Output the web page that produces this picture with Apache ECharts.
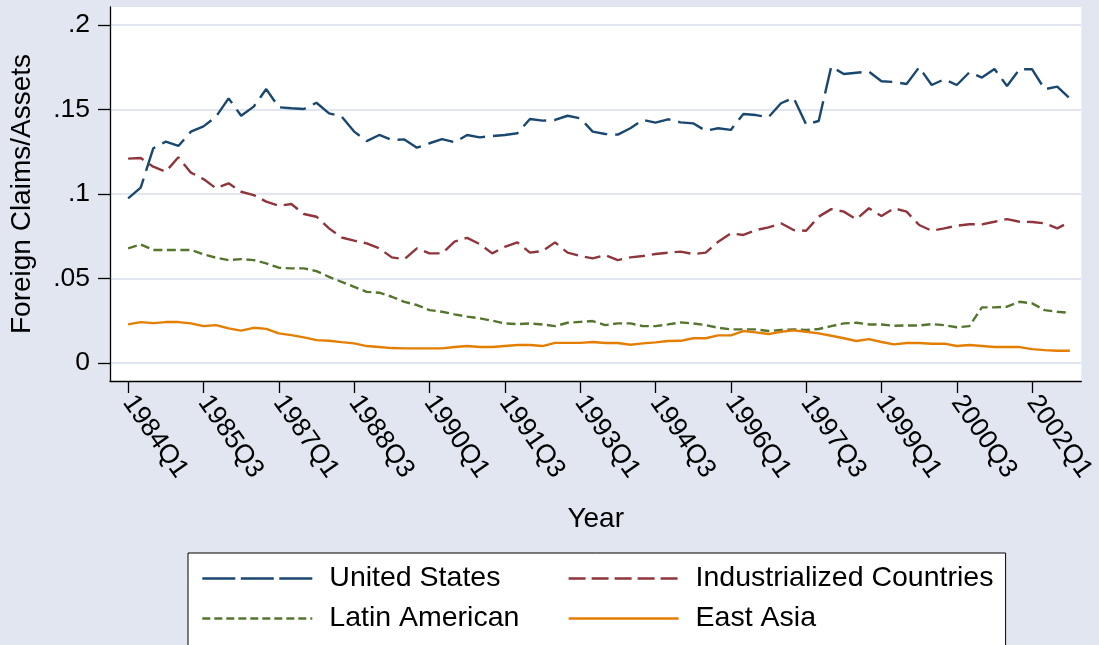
<!DOCTYPE html>
<html>
<head>
<meta charset="utf-8">
<script src="https://cdn.jsdelivr.net/npm/echarts@6/dist/echarts.min.js"></script>
<style>
html,body{margin:0;padding:0;background:#e1e6f0;}
#chart{width:1099px;height:645px;}
</style>
</head>
<body>
<div id="chart"></div>
<script>
const quarters = [
'1984Q1','1984Q2','1984Q3','1984Q4','1985Q1','1985Q2','1985Q3','1985Q4',
'1986Q1','1986Q2','1986Q3','1986Q4','1987Q1','1987Q2','1987Q3','1987Q4',
'1988Q1','1988Q2','1988Q3','1988Q4','1989Q1','1989Q2','1989Q3','1989Q4',
'1990Q1','1990Q2','1990Q3','1990Q4','1991Q1','1991Q2','1991Q3','1991Q4',
'1992Q1','1992Q2','1992Q3','1992Q4','1993Q1','1993Q2','1993Q3','1993Q4',
'1994Q1','1994Q2','1994Q3','1994Q4','1995Q1','1995Q2','1995Q3','1995Q4',
'1996Q1','1996Q2','1996Q3','1996Q4','1997Q1','1997Q2','1997Q3','1997Q4',
'1998Q1','1998Q2','1998Q3','1998Q4','1999Q1','1999Q2','1999Q3','1999Q4',
'2000Q1','2000Q2','2000Q3','2000Q4','2001Q1','2001Q2','2001Q3','2001Q4',
'2002Q1','2002Q2','2002Q3','2002Q4'];

const unitedStates = [
.0974,.1037,.1270,.1310,.1284,.1369,.1400,.1457,.1566,.1463,.1517,.1621,.1513,.1507,.1503,.1540,
.1477,.1459,.1369,.1313,.1349,.1319,.1323,.1274,.1300,.1325,.1306,.1349,.1335,.1343,.1349,.1359,
.1444,.1434,.1438,.1463,.1448,.1369,.1355,.1351,.1389,.1438,.1422,.1442,.1424,.1418,.1374,.1389,
.1379,.1473,.1467,.1454,.1537,.1570,.1412,.1432,.1754,.1710,.1718,.1724,.1667,.1663,.1651,.1750,
.1645,.1679,.1645,.1720,.1689,.1740,.1639,.1738,.1738,.1620,.1635,.1566];

const industrialized = [
.1209,.1213,.1161,.1132,.1217,.1126,.1088,.1033,.1063,.1013,.0993,.0954,.0930,.0940,.0881,.0865,
.0796,.0742,.0723,.0707,.0678,.0624,.0613,.0678,.0648,.0648,.0717,.0740,.0703,.0648,.0687,.0713,
.0652,.0662,.0713,.0652,.0633,.0618,.0638,.0608,.0624,.0632,.0644,.0652,.0658,.0644,.0652,.0717,
.0766,.0757,.0786,.0802,.0826,.0786,.0782,.0865,.0910,.0895,.0850,.0915,.0869,.0915,.0895,.0816,
.0782,.0796,.0812,.0820,.0820,.0835,.0851,.0835,.0834,.0826,.0796,.0835];

const latinAmerican = [
.0678,.0701,.0668,.0668,.0668,.0668,.0642,.0622,.0608,.0614,.0608,.0589,.0563,.0559,.0559,.0543,
.0509,.0479,.0450,.0420,.0415,.0391,.0361,.0342,.0312,.0302,.0287,.0273,.0263,.0249,.0233,.0229,
.0233,.0227,.0217,.0237,.0242,.0247,.0223,.0233,.0233,.0217,.0217,.0227,.0239,.0233,.0223,.0207,
.0198,.0198,.0198,.0188,.0194,.0198,.0194,.0200,.0217,.0233,.0237,.0227,.0227,.0219,.0221,.0221,
.0229,.0223,.0210,.0217,.0328,.0328,.0332,.0361,.0352,.0312,.0302,.0296];

const eastAsia = [
.0227,.0241,.0235,.0241,.0241,.0233,.0217,.0223,.0204,.0190,.0207,.0201,.0174,.0164,.0150,.0134,
.0130,.0122,.0115,.0099,.0093,.0087,.0085,.0085,.0085,.0085,.0093,.0099,.0093,.0093,.0099,.0105,
.0105,.0099,.0118,.0118,.0118,.0123,.0117,.0117,.0107,.0115,.0121,.0129,.0130,.0145,.0145,.0162,
.0162,.0188,.0180,.0170,.0184,.0192,.0184,.0174,.0160,.0145,.0129,.0140,.0123,.0109,.0117,.0117,
.0113,.0113,.0099,.0105,.0099,.0093,.0093,.0093,.0081,.0075,.0071,.0071];

const xTickValues = [0,6,12,18,24,30,36,42,48,54,60,66,72];
const yTickValues = [0,0.05,0.1,0.15,0.2];
const yTickLabels = ['0','.05','.1','.15','.2'];

const bg = '#e1e6f0';
const font = 'Liberation Sans, Arial, sans-serif';

function pairs(arr){ return arr.map((v,i)=>[i,v]); }
function yLabel(v){
  for (let k=0;k<yTickValues.length;k++){ if (Math.abs(yTickValues[k]-v)<1e-9) return yTickLabels[k]; }
  return '';
}

const chart = echarts.init(document.getElementById('chart'), null, {renderer:'canvas'});
chart.setOption({
  animation:false,
  backgroundColor:bg,
  textStyle:{fontFamily:font},
  grid:{left:110,right:9,top:7,bottom:264,show:true,backgroundColor:'#ffffff',borderWidth:0},
  xAxis:{
    type:'value', min:-1.445, max:75.92,
    axisLine:{show:true,onZero:false,lineStyle:{color:'#000',width:1.3}},
    axisTick:{show:true,customValues:xTickValues,length:12,lineStyle:{color:'#000',width:1.3}},
    axisLabel:{customValues:xTickValues,rotate:-55,margin:17,fontSize:26.5,color:'#000',fontFamily:font,
      formatter:function(v){return quarters[Math.round(v)];}},
    splitLine:{show:false},
    name:'Year', nameLocation:'middle', nameGap:124,
    nameTextStyle:{fontSize:28,color:'#000',fontFamily:font}
  },
  yAxis:{
    type:'value', min:-0.0108, max:0.2107,
    axisLine:{show:true,onZero:false,lineStyle:{color:'#000',width:1.3}},
    axisTick:{show:true,customValues:yTickValues,length:12,lineStyle:{color:'#000',width:1.3}},
    axisLabel:{customValues:yTickValues,margin:20,fontSize:26.5,color:'#000',fontFamily:font,formatter:yLabel},
    splitLine:{show:true,lineStyle:{color:bg,width:2}},
    name:'Foreign Claims/Assets', nameLocation:'middle', nameGap:74,
    nameTextStyle:{fontSize:28,color:'#000',fontFamily:font}
  },
  legend:{
    left:188, top:553, width:800, orient:'horizontal',
    itemGap:0, itemWidth:110, itemHeight:14,
    padding:[5.5,10,30,13],
    backgroundColor:'#ffffff', borderColor:'#000', borderWidth:1,
    selectedMode:false,
    itemStyle:{color:'rgba(0,0,0,0)',borderWidth:0,opacity:0},
    lineStyle:{width:2.6},
    textStyle:{fontSize:28.5,fontFamily:font,color:'#000',lineHeight:40,padding:[0,0,0,12],width:238,overflow:'none'},
    data:[
      {name:'United States',lineStyle:{width:2.6,type:[33,5.5]}},
      {name:'Industrialized Countries',lineStyle:{width:2.6,type:[17,6]},textStyle:{width:300}},
      {name:'Latin American',lineStyle:{width:2.6,type:[8,4]}},
      {name:'East Asia',lineStyle:{width:2.6},textStyle:{width:300}}
    ]
  },
  series:[
    {name:'United States',type:'line',symbol:'none',showSymbol:false,data:pairs(unitedStates),
     lineStyle:{color:'#1a476f',width:2.4,type:[26,8]},itemStyle:{color:'#1a476f'}},
    {name:'Industrialized Countries',type:'line',symbol:'none',showSymbol:false,data:pairs(industrialized),
     lineStyle:{color:'#90353b',width:2.4,type:[16,7]},itemStyle:{color:'#90353b'}},
    {name:'Latin American',type:'line',symbol:'none',showSymbol:false,data:pairs(latinAmerican),
     lineStyle:{color:'#55752f',width:2.4,type:[9,4.5]},itemStyle:{color:'#55752f'}},
    {name:'East Asia',type:'line',symbol:'none',showSymbol:false,data:pairs(eastAsia),
     lineStyle:{color:'#e37e00',width:2.4,type:'solid'},itemStyle:{color:'#e37e00'}}
  ]
});
</script>
</body>
</html>
